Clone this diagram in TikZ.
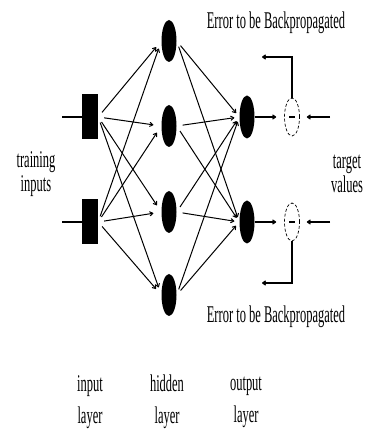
\documentclass[tikz,border=0pt]{standalone}
\usepackage{fontspec}
\setmainfont{Liberation Serif}
\usetikzlibrary{arrows.meta,shapes.geometric}
\newcommand{\sq}[1]{\scalebox{0.52}[1]{#1}}
\begin{document}
\begin{tikzpicture}[x=1pt,y=1pt,
  inbox/.style={draw=none,fill=black,minimum width=16pt,minimum height=45pt,inner sep=0pt},
  neuron/.style={ellipse,draw=none,fill=black,minimum width=15pt,minimum height=42pt,inner sep=0pt},
  sumnode/.style={ellipse,draw,densely dashed,line width=0.7pt,minimum width=15pt,minimum height=38pt,inner sep=0pt},
  conn/.style={line width=1pt,-{To[length=4pt,width=5pt]}},
  lbl/.style={font=\fontsize{24}{22}\selectfont,align=center,inner sep=0pt}]
\useasboundingbox (0,0) rectangle (391,434);
\fill[white] (0,0) rectangle (391,434);
% input layer
\node[inbox] (in1) at (90,317) {};
\node[inbox] (in2) at (90,212) {};
% hidden layer
\node[neuron] (h1) at (169,393) {};
\node[neuron] (h2) at (169,308) {};
\node[neuron] (h3) at (169,222) {};
\node[neuron] (h4) at (169,139) {};
% output layer
\node[neuron,minimum height=43pt] (o1) at (247,317) {};
\node[neuron,minimum height=43pt] (o2) at (247,212) {};
% difference nodes
\node[sumnode] (m1) at (292,317) {};
\node[sumnode] (m2) at (292,212) {};
\draw[line width=1.2pt] ([xshift=-3pt]m1.center) -- ([xshift=3pt]m1.center);
\draw[line width=1.2pt] ([xshift=-3pt]m2.center) -- ([xshift=3pt]m2.center);
% free ends
\coordinate (s1) at (62,317);
\coordinate (s2) at (62,212);
\coordinate (t1) at (330,317);
\coordinate (t2) at (330,212);
\coordinate (e1) at (262,377);
\coordinate (e2) at (262,151);
% input lines
\draw[line width=1.3pt] (s1) -- (in1.west);
\draw[line width=1.3pt] (s2) -- (in2.west);
% input -> hidden
\foreach \i in {in1,in2}
  \foreach \h in {h1,h2,h3,h4}
    \draw[conn,shorten <=6pt,shorten >=8pt] (\i.east) -- (\h.west);
% hidden -> output
\foreach \h in {h1,h2,h3,h4}
  \foreach \o in {o1,o2}
    \draw[conn,shorten <=6pt,shorten >=5pt] (\h.east) -- (\o.west);
% output -> difference
\draw[conn,line width=1.3pt,shorten >=8pt] (o1.east) -- (m1.west);
\draw[conn,line width=1.3pt,shorten >=8pt] (o2.east) -- (m2.west);
% targets
\draw[conn,line width=1.3pt,shorten >=7pt] (t1) -- (m1.east);
\draw[conn,line width=1.3pt,shorten >=7pt] (t2) -- (m2.east);
% error feedback
\draw[conn,line width=1.2pt] (m1.north) |- (e1);
\draw[conn,line width=1.2pt] (m2.south) |- (e2);
% labels
\node[lbl] (err1) at (276,411) {\sq{Error to be Backpropagated}};
\node[lbl] (err2) at (276,117) {\sq{Error to be Backpropagated}};
\node[lbl] (tin) at (36,260) {\sq{training}\\[2pt]\sq{inputs}};
\node[lbl] (tval) at (347,260) {\sq{target}\\[2pt]\sq{values}};
\node[lbl] (lin) at (90,32) {\sq{input}\\[10pt]\sq{layer}};
\node[lbl] (lhid) at (167,32) {\sq{hidden}\\[10pt]\sq{layer}};
\node[lbl] (lout) at (246,32) {\sq{output}\\[10pt]\sq{layer}};
\end{tikzpicture}
\end{document}
